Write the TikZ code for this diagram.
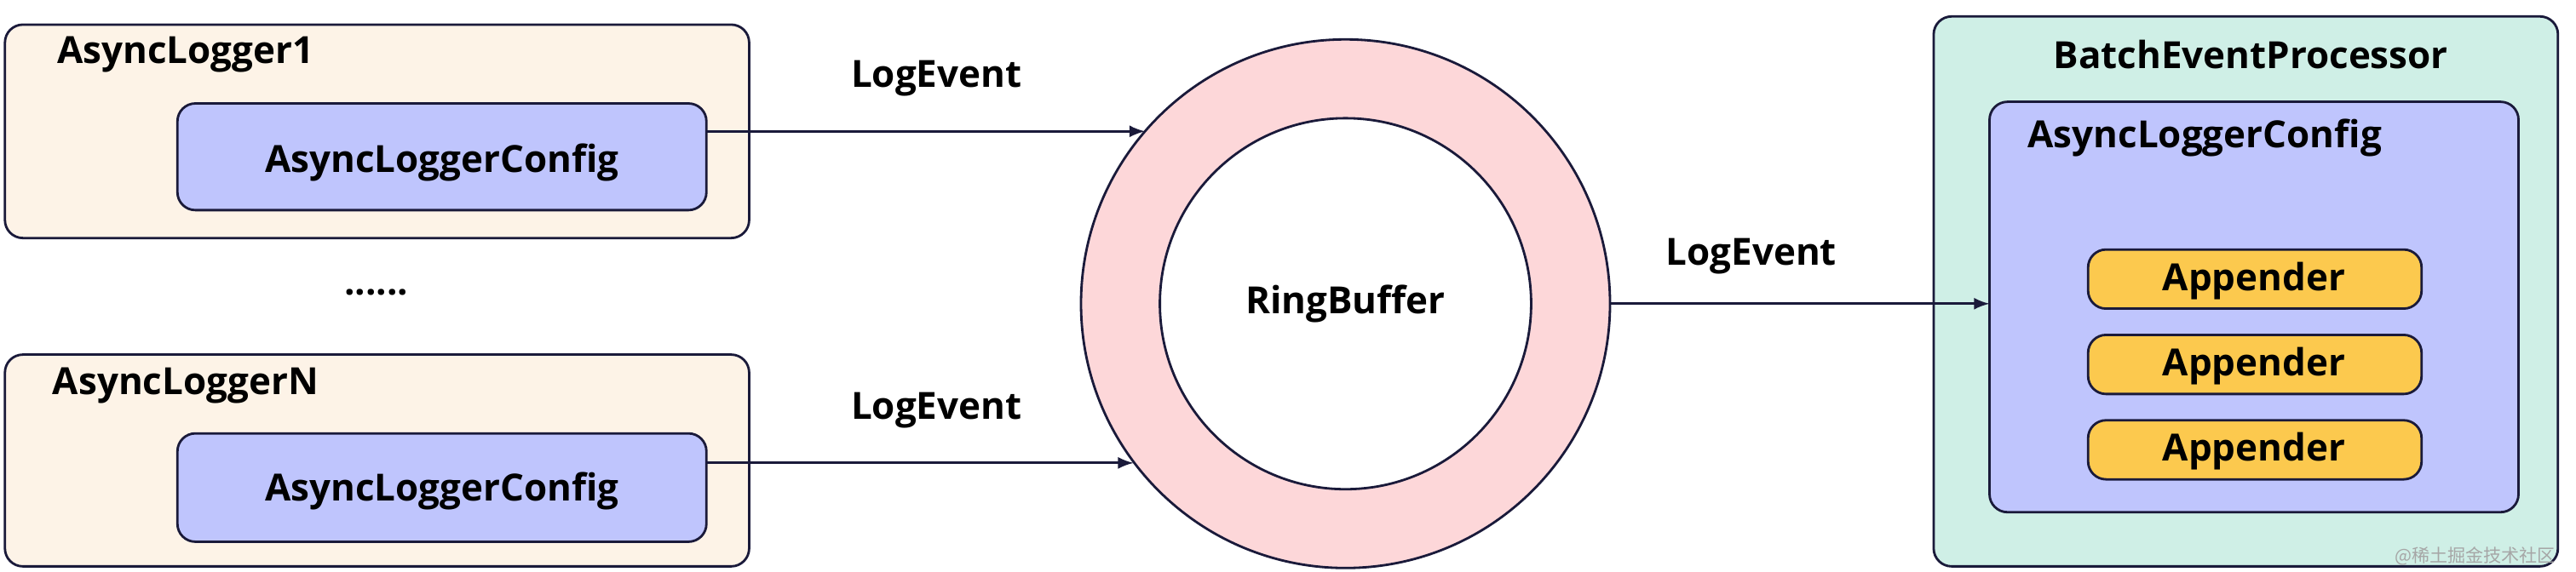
\documentclass[tikz,border=0pt]{standalone}
\usepackage{fontspec}
\setmainfont{Open Sans}
\newfontfamily\cjk{Noto Sans CJK SC}
\usetikzlibrary{positioning}
\definecolor{cream}{HTML}{FDF3E7}
\definecolor{lav}{HTML}{BFC5FD}
\definecolor{mint}{HTML}{CFEFE6}
\definecolor{ringpink}{HTML}{FDD7D9}
\definecolor{appgold}{HTML}{FCC94E}
\definecolor{edge}{HTML}{1A1A3A}
\begin{document}
\begin{tikzpicture}[x=0.019286cm, y=-0.019286cm,
    box/.style = {draw=edge, rounded corners=6pt, line width=0.8pt},
    lbl/.style = {font=\bfseries\fontsize{12.5}{14}\selectfont},
    flow/.style = {->, >=latex, line width=0.8pt, draw=edge}]
\useasboundingbox (0,0) rectangle (1568,348);
% loggers
\draw[box, fill=cream] (3,15) rectangle (456,145);
\draw[box, fill=cream] (3,216) rectangle (456,345);
\node[lbl] (log1) at (113,33) {AsyncLogger1};
\node[lbl] (logN) at (113,235) {AsyncLoggerN};
\draw[box, fill=lav] (108,63) rectangle (430,128);
\draw[box, fill=lav] (108,264) rectangle (430,330);
\node[lbl] (cfg1) at (269,99) {AsyncLoggerConfig};
\node[lbl] (cfgN) at (269,299) {AsyncLoggerConfig};
\node[lbl] (dots) at (229,178) {......};
% ring
\draw[edge, line width=0.8pt, fill=ringpink] (819,185) circle (161);
\draw[edge, line width=0.8pt, fill=white] (819,185) circle (113);
\node[lbl] (ring) at (819,185) {RingBuffer};
\coordinate (in1) at (697,80);
\coordinate (inN) at (690,282);
\coordinate (out1) at (430,80);
\coordinate (outN) at (430,282);
\draw[flow] (out1) -- (in1);
\draw[flow] (outN) -- (inN);
\node[lbl] (ev1) at (570,48) {LogEvent};
\node[lbl] (evN) at (570,250) {LogEvent};
% processor
\draw[box, fill=mint] (1177,10) rectangle (1557,345);
\node[lbl] (proc) at (1370,33) {BatchEventProcessor};
\draw[box, fill=lav] (1211,62) rectangle (1533,312);
\node[lbl] (pcfg) at (1342,84) {AsyncLoggerConfig};
\coordinate (ringout) at (980,185);
\coordinate (pin) at (1211,185);
\draw[flow] (ringout) -- (pin);
\node[lbl] (ev2) at (1066,156) {LogEvent};
\foreach \y/\n in {152/a1, 204/a2, 256/a3} {
  \draw[box, fill=appgold] (1271,\y) rectangle (1474,\y+36);
  \node[lbl] (\n) at (1372,\y+19) {Appender};
}
\node[text=gray!70, font=\cjk\fontsize{6}{7}\selectfont, anchor=east] (wm) at (1562,339) {@稀土掘金技术社区};
\end{tikzpicture}
\end{document}
